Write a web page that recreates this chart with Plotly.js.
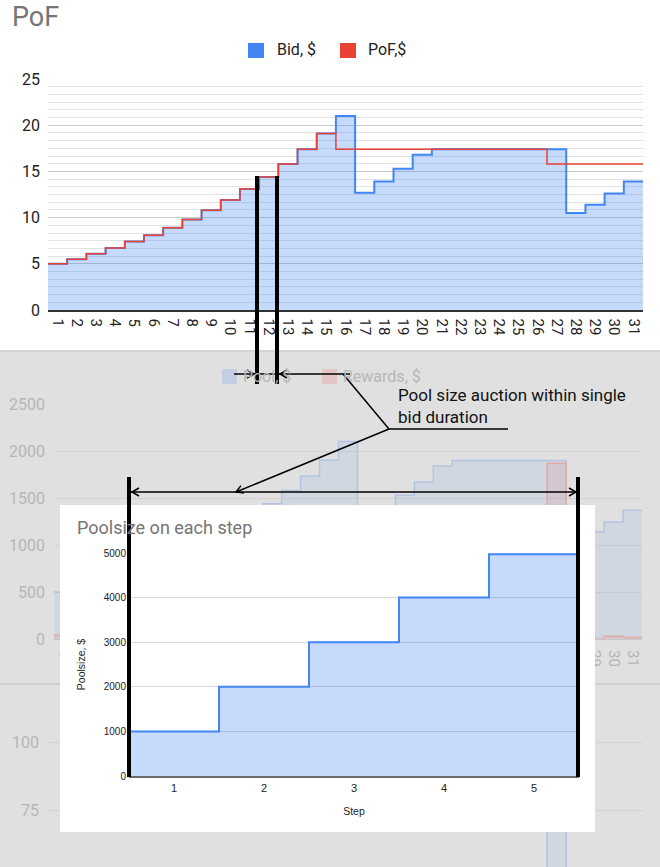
<!DOCTYPE html>
<html>
<head>
<meta charset="utf-8">
<script src="https://cdn.plot.ly/plotly-3.0.1.min.js"></script>
<style>html,body{margin:0;padding:0;background:#fff;}#chart{width:660px;height:867px;}</style>
</head>
<body>
<div id="chart"></div>
<script>
// ---------------- data ----------------
const steps = ['1','2','3','4','5','6','7','8','9','10','11','12','13','14','15','16','17','18','19','20','21','22','23','24','25','26','27','28','29','30','31'];
const bidName = 'Bid, $';
const pofName = 'PoF,$';
const bid = [5, 5.5, 6.1, 6.7, 7.4, 8.1, 8.9, 9.8, 10.8, 11.9, 13.1, 14.4, 15.8, 17.4, 19.1, 21.0, 12.7, 13.9, 15.3, 16.8, 17.4, 17.4, 17.4, 17.4, 17.4, 17.4, 17.4, 10.5, 11.4, 12.6, 13.9];
const pof = [5, 5.5, 6.1, 6.7, 7.4, 8.1, 8.9, 9.8, 10.8, 11.9, 13.1, 14.4, 15.8, 17.4, 19.1, 17.4, 17.4, 17.4, 17.4, 17.4, 17.4, 17.4, 17.4, 17.4, 17.4, 17.4, 15.8, 15.8, 15.8, 15.8, 15.8];

// greyed-out chart behind the overlay
const poolName = 'Pool, $';
const rewardsName = 'Rewards, $';
const pool = [500, 550, 605, 665, 730, 805, 885, 975, 1070, 1180, 1300, 1440, 1580, 1735, 1905, 2100, 1270, 1390, 1530, 1670, 1840, 1900, 1900, 1900, 1900, 1900, 1900, 1050, 1140, 1245, 1370];
const rewards = [40, 40, 40, 40, 40, 40, 40, 40, 40, 40, 40, 40, 40, 40, 40, 40, 40, 40, 40, 40, 40, 40, 40, 40, 40, 40, 1870, 40, 0, 30, 15];
const third = [0, 0, 0, 0, 0, 0, 0, 0, 0, 0, 0, 0, 0, 0, 0, 0, 0, 0, 0, 0, 0, 0, 0, 0, 0, 0, 72, 0, 0, 0, 0];
const thirdTicks = [75, 100];

// inset chart
const insetTitle = 'Poolsize on each step';
const poolSteps = ['1', '2', '3', '4', '5'];
const poolSize = [1000, 2000, 3000, 4000, 4970];

const noteText = 'Pool size auction within single<br>bid duration';

// ---------------- helpers ----------------
const W = 660, H = 867;
const fx = x => x / W;
const fy = y => 1 - y / H;
function stepX(vals) { const xs = vals.map((v, i) => i + 0.5); xs.push(vals.length + 0.5); return xs; }
function stepY(vals) { const ys = vals.slice(); ys.push(vals[vals.length - 1]); return ys; }
const idx = steps.map((s, i) => i + 1);
const pidx = poolSteps.map((s, i) => i + 1);

function seg(x0, y0, x1, y1, w) {
  return {type: 'line', xref: 'paper', yref: 'paper', x0: fx(x0), y0: fy(y0), x1: fx(x1), y1: fy(y1),
          line: {color: '#000', width: w}, layer: 'above'};
}
function head(tx, ty, sx, sy) {
  const dx = tx - sx, dy = ty - sy, L = Math.hypot(dx, dy);
  const ux = dx / L, uy = dy / L, len = 7, half = 4;
  const bx = tx - ux * len, by = ty - uy * len;
  const p1 = [bx - uy * half, by + ux * half], p2 = [bx + uy * half, by - ux * half];
  return {type: 'path', xref: 'paper', yref: 'paper',
          path: `M${fx(p1[0])},${fy(p1[1])} L${fx(tx)},${fy(ty)} L${fx(p2[0])},${fy(p2[1])}`,
          line: {color: '#000', width: 1.5}, layer: 'above'};
}
function box(x0, y0, x1, y1, fill, layer) {
  return {type: 'rect', xref: 'paper', yref: 'paper', x0: fx(x0), y0: fy(y1), x1: fx(x1), y1: fy(y0),
          fillcolor: fill, line: {width: 0}, layer: layer || 'below'};
}
function ann(text, x, y, size, color, extra) {
  return Object.assign({text: text, x: fx(x), y: fy(y), xref: 'paper', yref: 'paper', xanchor: 'left', yanchor: 'middle',
          showarrow: false, font: {family: 'Roboto, Arial, sans-serif', size: size, color: color}}, extra || {});
}

// ---------------- traces ----------------
const traces = [
  {name: bidName, x: stepX(bid), y: stepY(bid), xaxis: 'x', yaxis: 'y', mode: 'lines',
   line: {shape: 'hv', color: '#4285F4', width: 2}, fill: 'tozeroy', fillcolor: 'rgba(66,133,244,0.3)', hoverinfo: 'skip'},
  {name: pofName, x: stepX(pof), y: stepY(pof), xaxis: 'x', yaxis: 'y', mode: 'lines',
   line: {shape: 'hv', color: '#EA4335', width: 1.5}, hoverinfo: 'skip'},

  {name: poolName, x: stepX(pool), y: stepY(pool), xaxis: 'x2', yaxis: 'y2', mode: 'lines',
   line: {shape: 'hv', color: '#b3c3e2', width: 1.5}, fill: 'tozeroy', fillcolor: 'rgba(130,165,230,0.16)', hoverinfo: 'skip'},
  {name: rewardsName, x: stepX(rewards), y: stepY(rewards), xaxis: 'x2', yaxis: 'y2', mode: 'lines',
   line: {shape: 'hv', color: '#e2aaa6', width: 1.5}, fill: 'tozeroy', fillcolor: 'rgba(234,67,53,0.10)', hoverinfo: 'skip'},
  {name: 'third', x: stepX(third), y: stepY(third), xaxis: 'x3', yaxis: 'y3', mode: 'lines',
   line: {shape: 'hv', color: '#b3c3e2', width: 1.5}, fill: 'tozeroy', fillcolor: 'rgba(130,165,230,0.16)', hoverinfo: 'skip'},

  {name: 'card', x: [], y: [], xaxis: 'x4', yaxis: 'y4', mode: 'lines', hoverinfo: 'skip'},

  {name: 'Poolsize, $', x: stepX(poolSize), y: stepY(poolSize), xaxis: 'x5', yaxis: 'y5', mode: 'lines',
   line: {shape: 'hv', color: '#4285F4', width: 2}, fill: 'tozeroy', fillcolor: 'rgba(66,133,244,0.3)', hoverinfo: 'skip'}
];

// ---------------- layout ----------------
const ghostText = '#b6b6b6';
const ghostGrid = '#d3d3d3';
const y3val = y => 100 - (y - 742) * 25 / 68;

const shapes = [
  box(0, 350, 660, 867, '#e0e0e0'),
  seg(0, 351, 660, 351, 2), seg(0, 684, 660, 684, 2),
  // legends
  box(248, 43, 264, 58, '#4285F4'), box(340, 43, 356, 58, '#EA4335'),
  box(222, 369, 237, 384, '#c4cee2'), box(322, 369, 337, 384, '#e3c5c4'),
  // annotation drawing
  seg(257, 176, 257, 384, 4), seg(277, 176, 277, 384, 4),
  seg(234, 374, 350, 374, 1.5),
  seg(343, 374, 389, 429, 1.5), seg(389, 429, 508, 429, 1.5), seg(389, 429, 236, 492, 1.5),
  seg(131, 492, 577, 492, 1.5),
  seg(129, 477, 129, 777, 4), seg(578, 477, 578, 777, 4)
];
shapes[1].line.color = '#d4d4d4'; shapes[1].layer = 'below';
shapes[2].line.color = '#d0d0d0'; shapes[2].layer = 'below';
shapes.push(head(254, 374, 234, 374), head(280, 374, 300, 374), head(236, 492, 389, 429),
            head(132, 492, 200, 492), head(576, 492, 500, 492));

const annotations = [
  ann(bidName, 275, 50, 16, '#222'), ann(pofName, 366, 50, 16, '#222'),
  ann(poolName, 241, 376, 16, ghostText), ann(rewardsName, 341, 376, 16, ghostText),
  ann(noteText, 396, 406, 17, '#111', {align: 'left'}),
  ann(insetTitle, 75, 527, 18, '#757575')
];

const layout = {
  width: W, height: H,
  margin: {l: 0, r: 0, t: 0, b: 0, pad: 0},
  paper_bgcolor: '#ffffff', plot_bgcolor: '#ffffff',
  showlegend: false,
  font: {family: 'Roboto, Arial, sans-serif', color: '#222'},
  title: {text: 'PoF', x: fx(12), xanchor: 'left', y: fy(17), yanchor: 'middle',
          font: {family: 'Roboto, Arial, sans-serif', size: 27, color: '#757575'}},
  xaxis: {domain: [fx(48), fx(643)], range: [0.5, 31.5], tickmode: 'array', tickvals: idx, ticktext: steps,
          tickangle: 90, tickfont: {size: 15, color: '#222'}, showgrid: false, zeroline: false,
          showline: true, linecolor: '#333', linewidth: 1.5, ticks: '', ticklabelstandoff: 4, anchor: 'y', fixedrange: true},
  yaxis: {domain: [fy(310), fy(79)], range: [0, 25], tick0: 0, dtick: 5, gridcolor: '#c9c9c9',
          minor: {dtick: 5 / 6, tick0: 0, showgrid: true, gridcolor: '#e3e3e3', ticks: ''},
          zeroline: false, tickfont: {size: 16, color: '#222'}, ticks: '', ticklabelstandoff: 7, anchor: 'x', fixedrange: true},

  xaxis2: {domain: [fx(54), fx(642)], range: [0.5, 31.5], tickmode: 'array', tickvals: idx, ticktext: steps,
           tickangle: 90, tickfont: {size: 15, color: ghostText}, showgrid: false, zeroline: false,
           showline: true, linecolor: '#c6c6c6', linewidth: 1, ticks: '', ticklabelstandoff: 7, anchor: 'y2', fixedrange: true},
  yaxis2: {domain: [fy(639), fy(404)], range: [0, 2500], tick0: 0, dtick: 500, gridcolor: ghostGrid, zeroline: false,
           tickfont: {size: 16, color: ghostText}, ticks: '', ticklabelstandoff: 8, anchor: 'x2', fixedrange: true},

  xaxis3: {domain: [fx(48), fx(643)], range: [0.5, 31.5], showticklabels: false, showgrid: false, zeroline: false,
           showline: false, ticks: '', anchor: 'y3', fixedrange: true},
  yaxis3: {domain: [0, fy(700)], range: [y3val(867), y3val(700)], tickmode: 'array', tickvals: thirdTicks,
           gridcolor: ghostGrid, zeroline: false, tickfont: {size: 16, color: ghostText}, ticks: '',
           ticklabelstandoff: 8, anchor: 'x3', fixedrange: true},

  xaxis4: {domain: [fx(60), fx(595)], range: [0, 1], visible: false, anchor: 'y4', fixedrange: true},
  yaxis4: {domain: [fy(832), fy(505)], range: [0, 1], visible: false, anchor: 'x4', fixedrange: true},

  xaxis5: {domain: [fx(129), fx(579)], range: [0.5, 5.5], tickmode: 'array', tickvals: pidx, ticktext: poolSteps,
           tickfont: {family: 'Liberation Sans, Arial, sans-serif', size: 11, color: '#222'},
           showgrid: false, zeroline: false, showline: true, linecolor: '#6b6b6b', linewidth: 2, ticks: '',
           ticklabelstandoff: 1, anchor: 'y5', fixedrange: true,
           title: {text: 'Step', standoff: 14, font: {family: 'Liberation Sans, Arial, sans-serif', size: 10.5, color: '#222'}}},
  yaxis5: {domain: [fy(776), fy(553)], range: [0, 5000], tick0: 0, dtick: 1000, gridcolor: '#d8d8d8', zeroline: false,
           tickfont: {family: 'Liberation Sans, Arial, sans-serif', size: 10, color: '#222'}, ticks: '',
           ticklabelstandoff: 2, anchor: 'x5', fixedrange: true,
           title: {text: 'Poolsize, $', standoff: 16, font: {family: 'Liberation Sans, Arial, sans-serif', size: 10.5, color: '#222'}}},

  shapes: shapes,
  annotations: annotations
};

Plotly.newPlot('chart', traces, layout, {displayModeBar: false, staticPlot: true});
</script>
</body>
</html>
